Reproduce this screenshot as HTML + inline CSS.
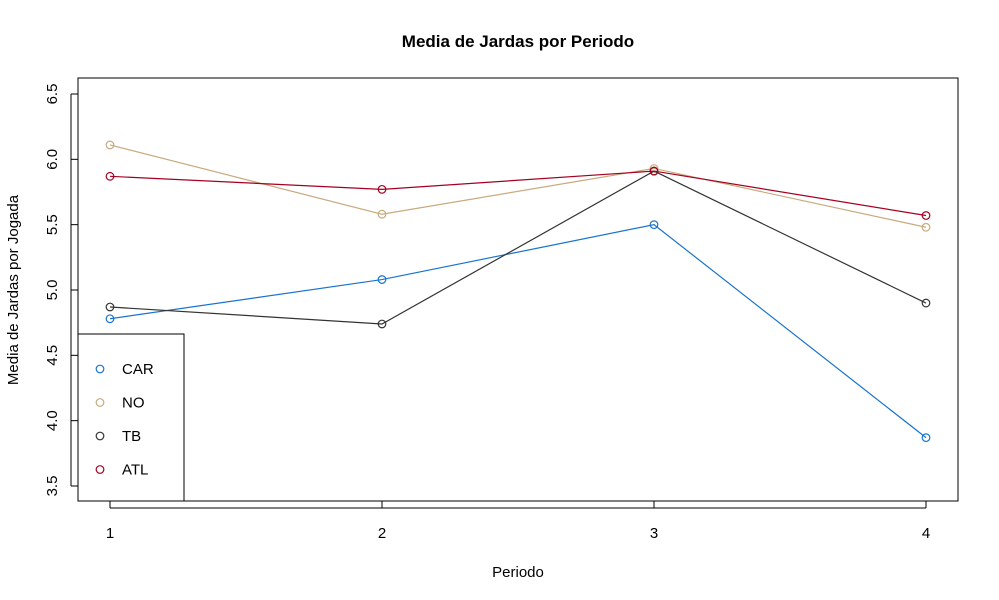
<!DOCTYPE html>
<html><head><meta charset="utf-8"><style>body{margin:0;background:#fff}svg{display:block}text{font-family:"Liberation Sans",Arial,sans-serif}</style></head>
<body>
<svg id="chart" width="999" height="600">
<text x="518" y="47" text-anchor="middle" font-weight="bold" font-size="17">Media de Jardas por Periodo</text>
<rect x="78" y="78" width="880" height="423" fill="none" stroke="#000"/>
<text x="518" y="577" text-anchor="middle" font-size="15">Periodo</text>
<text transform="translate(18,290) rotate(-90)" text-anchor="middle" font-size="15">Media de Jardas por Jogada</text>
<g id="axes"></g><g id="series"></g><g id="legend"></g>
</svg>
<script>
const periods=[1,2,3,4];
const yTicks=[3.5,4.0,4.5,5.0,5.5,6.0,6.5];
const seriesNames=["CAR","NO","TB","ATL"];
const carValues=[4.78,5.08,5.50,3.87];
const noValues=[6.11,5.58,5.93,5.48];
const tbValues=[4.87,4.74,5.91,4.90];
const atlValues=[5.87,5.77,5.91,5.57];
const colors=["#1874CD","#C8AA7D","#333333","#A50021"];
const NS="http://www.w3.org/2000/svg";
const xs=v=>110+(v-1)*272;
const ys=v=>486-(v-3.5)*130.67;
function mk(t,a,p){const e=document.createElementNS(NS,t);for(const k in a)e.setAttribute(k,a[k]);p.appendChild(e);return e;}
const ax=document.getElementById('axes');
periods.forEach(p=>{
 const l=mk('line',{x1:xs(p),x2:xs(p),y1:501,y2:508,stroke:'#000'},ax);
 
 
 const t=mk('text',{x:xs(p),y:538,'text-anchor':'middle','font-size':15},ax);t.textContent=p;
 
 
});
mk('line',{x1:110,x2:926,y1:508,y2:508,stroke:'#000'},ax);
yTicks.forEach(v=>{
 const l=mk('line',{x1:71,x2:78,y1:ys(v),y2:ys(v),stroke:'#000'},ax);
 
 
 const t=mk('text',{transform:`translate(57,${ys(v)}) rotate(-90)`,'text-anchor':'middle','font-size':15},ax);t.textContent=v.toFixed(1);
 
 
});
mk('line',{x1:71,x2:71,y1:ys(3.5),y2:ys(6.5),stroke:'#000'},ax);
const all=[carValues,noValues,tbValues,atlValues];
const sg=document.getElementById('series');
all.forEach((vals,i)=>{
 const g=mk('g',{},sg);
 
 
 mk('polyline',{points:vals.map((v,j)=>xs(periods[j])+','+ys(v)).join(' '),fill:'none',stroke:colors[i],'stroke-width':1.2},g);
 vals.forEach((v,j)=>{
  const c=mk('circle',{cx:xs(periods[j]),cy:ys(v),r:3.8,fill:'none',stroke:colors[i],'stroke-width':1.2},g);
  
  
 });
});
const lg=document.getElementById('legend');


mk('rect',{x:78,y:334,width:106,height:167,fill:'#fff',stroke:'#000'},lg);
seriesNames.forEach((n,i)=>{
 const y=369+i*33.5;
 const c=mk('circle',{cx:100,cy:y,r:3.8,fill:'none',stroke:colors[i],'stroke-width':1.2},lg);
 
 
 const t=mk('text',{x:122,y:y+5,'font-size':15},lg);t.textContent=n;
 
 
});
</script>
</body></html>
